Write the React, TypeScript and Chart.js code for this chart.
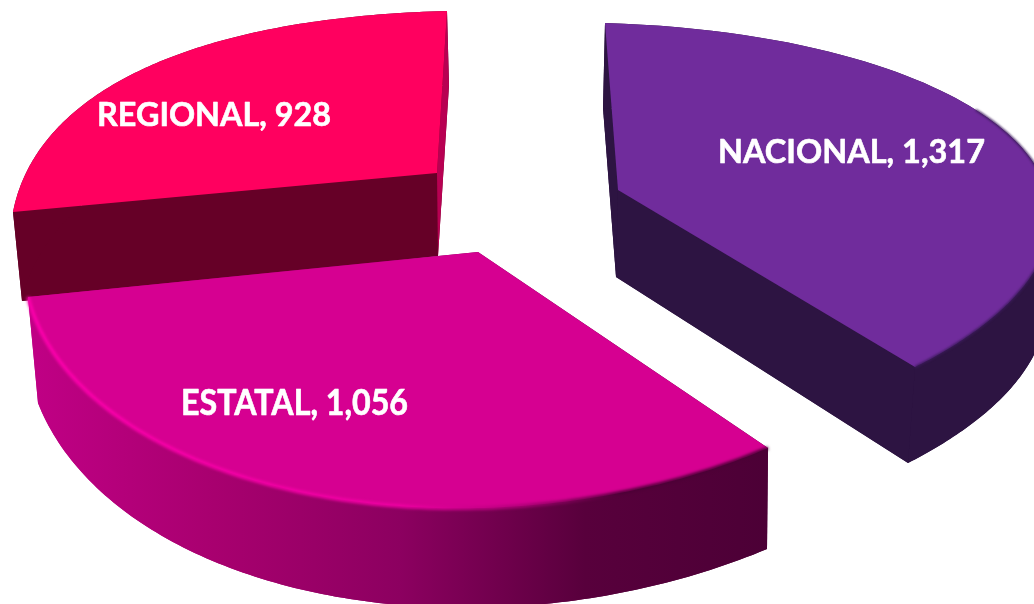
import React, { useEffect, useRef } from "react";
import { Chart, registerables } from "chart.js";

Chart.register(...registerables);

const categories = ["NACIONAL", "ESTATAL", "REGIONAL"];
const values = [1317, 1056, 928];
const topColors = ["#702c9c", "#d60091", "#ff005f"];
const wallColors = ["#2d1442", "#7d0055", "#660027"];

type P = [number, number];
// A face of a slice: its apex, and the rim as a conic (start, end, a point on it, corner of its end tangents).
interface Face { apex: P; start: P; end: P; mid: P; corner: P }
interface Look { top: Face; bottom: Face; label: P; labelWidth: number; labelTall: number }

const looks: Look[] = [
  {
    top: { apex: [618, 190], start: [605, 23], end: [915, 367], mid: [1051, 219], corner: [1545, 51] },
    bottom: { apex: [616, 277], start: [603, 108], end: [908, 463], mid: [1046, 312], corner: [1540, 140] },
    label: [718, 163],
    labelWidth: 267,
    labelTall: 1,
  },
  {
    top: { apex: [478, 252], start: [768, 448], end: [28, 297], mid: [305, 493], corner: [135, 720] },
    bottom: { apex: [478, 345], start: [767, 549], end: [38, 403], mid: [322, 594], corner: [190, 790] },
    label: [181, 415],
    labelWidth: 227,
    labelTall: 1.08,
  },
  {
    top: { apex: [437, 173], start: [13, 212], end: [447, 11], mid: [125, 78], corner: [50, 21] },
    bottom: { apex: [438, 256], start: [22, 301], end: [449, 85], mid: [130, 170], corner: [60, 110] },
    label: [97, 126],
    labelWidth: 234,
    labelTall: 1,
  },
];
const drawOrder = [2, 0, 1];

function solve(a: number[][], b: number[]): number[] {
  const n = b.length;
  const m = a.map((r, i) => [...r, b[i]]);
  for (let c = 0; c < n; c++) {
    let p = c;
    for (let r = c + 1; r < n; r++) if (Math.abs(m[r][c]) > Math.abs(m[p][c])) p = r;
    [m[c], m[p]] = [m[p], m[c]];
    for (let r = 0; r < n; r++) {
      if (r === c) continue;
      const f = m[r][c] / m[c][c];
      for (let k = c; k <= n; k++) m[r][k] -= f * m[c][k];
    }
  }
  return m.map((r, i) => r[n] / r[i]);
}

function homography(src: P[], dst: P[]) {
  const A: number[][] = [];
  const B: number[] = [];
  src.forEach(([x, y], i) => {
    const [u, v] = dst[i];
    A.push([x, y, 1, 0, 0, 0, -u * x, -u * y]);
    B.push(u);
    A.push([0, 0, 0, x, y, 1, -v * x, -v * y]);
    B.push(v);
  });
  const h = solve(A, B);
  return (x: number, y: number): P => {
    const w = h[6] * x + h[7] * y + 1;
    return [(h[0] * x + h[1] * y + h[2]) / w, (h[3] * x + h[4] * y + h[5]) / w];
  };
}

const fillPoly = (ctx: CanvasRenderingContext2D, pts: P[], fill: string | CanvasGradient) => {
  ctx.beginPath();
  pts.forEach(([x, y], i) => (i ? ctx.lineTo(x, y) : ctx.moveTo(x, y)));
  ctx.closePath();
  ctx.fillStyle = fill;
  ctx.fill();
};

const strokeLine = (
  ctx: CanvasRenderingContext2D,
  pts: P[],
  stroke: string | CanvasGradient,
  width: number,
  blur: number
) => {
  ctx.save();
  ctx.filter = `blur(${blur}px)`;
  ctx.beginPath();
  pts.forEach(([x, y], i) => (i ? ctx.lineTo(x, y) : ctx.moveTo(x, y)));
  ctx.strokeStyle = stroke;
  ctx.lineWidth = width;
  ctx.stroke();
  ctx.restore();
};

// Sweep the slice's own arc angles through the conic that carries the circle onto the rim.
function rim(face: Face, s: number, e: number): P[] {
  const m = (s + e) / 2;
  const c = 1 / Math.cos((e - s) / 2);
  const map = homography(
    [[Math.cos(s), Math.sin(s)], [Math.cos(e), Math.sin(e)], [Math.cos(m), Math.sin(m)], [Math.cos(m) * c, Math.sin(m) * c]],
    [face.start, face.end, face.mid, face.corner]
  );
  const out: P[] = [];
  for (let k = 0; k <= 120; k++) {
    const a = s + ((e - s) * k) / 120;
    out.push(map(Math.cos(a), Math.sin(a)));
  }
  return out;
}

const pie3d = {
  id: "pie3d",
  beforeDatasetsDraw(chart: any) {
    const ctx: CanvasRenderingContext2D = chart.ctx;
    const arcs = chart.getDatasetMeta(0).data;
    ctx.save();
    ctx.lineJoin = "round";
    drawOrder.forEach((i) => {
      const look = looks[i];
      const { startAngle: s, endAngle: e } = arcs[i].getProps(["startAngle", "endAngle"], true);
      const arcTop = rim(look.top, s, e);
      const arcBot = rim(look.bottom, s, e);
      const last = arcTop.length - 1;
      const aT = look.top.apex;
      const aB = look.bottom.apex;

      let wall: string | CanvasGradient = wallColors[i];
      if (i === 1) {
        const g = ctx.createLinearGradient(30, 0, 770, 0);
        g.addColorStop(0, "#c00085");
        g.addColorStop(0.25, "#a8006f");
        g.addColorStop(0.5, "#8c0060");
        g.addColorStop(0.75, "#58003c");
        g.addColorStop(1, "#4c0036");
        wall = g;
      }
      fillPoly(ctx, [aB, ...arcBot], wall);
      fillPoly(ctx, [aT, arcTop[0], arcBot[0], aB], wall);
      fillPoly(ctx, [...arcTop, ...[...arcBot].reverse()], wall);
      fillPoly(ctx, [aT, arcTop[last], arcBot[last], aB], i === 2 ? "#b80052" : wall);

      fillPoly(ctx, [aT, ...arcTop], topColors[i]);
      if (i === 1) {
        const g = ctx.createLinearGradient(30, 0, 770, 0);
        g.addColorStop(0, "#ff00ae");
        g.addColorStop(0.5, "#f000a4");
        g.addColorStop(0.66, "#b00078");
        g.addColorStop(0.8, "#4c0036");
        g.addColorStop(1, "#4c0036");
        strokeLine(ctx, arcTop, g, 3.5, 1.8);
      } else if (i === 0) {
        strokeLine(ctx, arcTop.slice(30), "#3c1b5c", 2, 1.2);
      }
    });

    ctx.fillStyle = "#ffffff";
    ctx.strokeStyle = "#ffffff";
    ctx.lineWidth = 0.6;
    ctx.textBaseline = "alphabetic";
    ctx.font = "bold 33px Lato";
    categories.forEach((name, i) => {
      const text = `${name}, ${values[i].toLocaleString("en-US")}`;
      const w = ctx.measureText(text).width;
      ctx.save();
      ctx.translate(looks[i].label[0], looks[i].label[1]);
      ctx.scale(looks[i].labelWidth / w, looks[i].labelTall);
      ctx.fillText(text, 0, 0);
      ctx.strokeText(text, 0, 0);
      ctx.restore();
    });
    ctx.restore();
    return false;
  },
};

export default function App() {
  const ref = useRef<HTMLCanvasElement>(null);
  useEffect(() => {
    document.body.style.margin = "0";
    const chart = new Chart(ref.current!, {
      type: "pie",
      data: {
        labels: categories,
        datasets: [{ data: values, backgroundColor: topColors, borderWidth: 0 }],
      },
      options: {
        animation: false,
        responsive: false,
        plugins: { legend: { display: false }, tooltip: { enabled: false } },
      },
      plugins: [pie3d],
    } as any);
    return () => chart.destroy();
  }, []);
  return <canvas ref={ref} width={1034} height={604} style={{ display: "block", background: "#ffffff" }} />;
}
